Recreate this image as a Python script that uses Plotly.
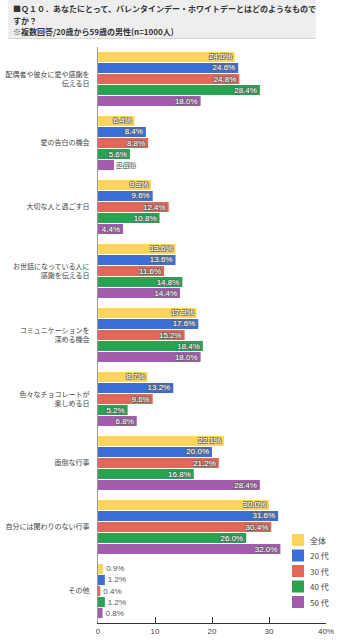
import plotly.graph_objects as go

categories = [
    "配偶者や彼女に愛や感謝を<br>伝える日",
    "愛の告白の機会",
    "大切な人と過ごす日",
    "お世話になっている人に<br>感謝を伝える日",
    "コミュニケーションを<br>深める機会",
    "色々なチョコレートが<br>楽しめる日",
    "面倒な行事",
    "自分には関わりのない行事",
    "その他",
]
series_names = ["全体", "20 代", "30 代", "40 代", "50 代"]
v_all = [24.0, 6.4, 9.3, 13.6, 17.3, 8.7, 22.1, 30.0, 0.9]
v_20 = [24.6, 8.4, 9.6, 13.6, 17.6, 13.2, 20.0, 31.6, 1.2]
v_30 = [24.8, 8.8, 12.4, 11.6, 15.2, 9.6, 21.2, 30.4, 0.4]
v_40 = [28.4, 5.6, 10.8, 14.8, 18.4, 5.2, 16.8, 26.0, 1.2]
v_50 = [18.0, 2.8, 4.4, 14.4, 18.0, 6.8, 28.4, 32.0, 0.8]
series_values = [v_all, v_20, v_30, v_40, v_50]
colors = ["#FDD55B", "#3B6FD6", "#E2665A", "#2AA250", "#A35CAD"]
tick_vals = [0, 10, 20, 30, 40]
tick_text = ["0", "10", "20", "30", "40%"]

W, H = 347, 640
ML, MR, MT, MB = 98, 21, 47, 17
PW = W - ML - MR
PH = H - MT - MB


def px_x(px):
    return (px - ML) / PW


def px_y(py):
    return (H - MB - py) / PH


FONT = "Liberation Sans, Arial, Noto Sans CJK JP, sans-serif"
JFONT = "Noto Sans CJK JP, sans-serif"
outline = "1px 1px 0 #666, -1px -1px 0 #666, 1px -1px 0 #666, -1px 1px 0 #666"

fig = go.Figure()
for name, vals, col in zip(series_names, series_values, colors):
    pos = ["inside" if v >= 3 else "outside" for v in vals]
    out_col = ["white" if v >= 2 else "#555" for v in vals]
    out_sh = [outline if v >= 2 else "none" for v in vals]
    fig.add_trace(go.Bar(
        name=name,
        y=categories,
        x=vals,
        orientation="h",
        marker=dict(color=col, line=dict(width=0)),
        text=[f"{v:.1f}%" for v in vals],
        textposition=pos,
        insidetextanchor="end",
        constraintext="none",
        cliponaxis=False,
        insidetextfont=dict(family=FONT, size=8, color="white", shadow=outline),
        outsidetextfont=dict(family=FONT, size=8, color=out_col, shadow=out_sh),
        hoverinfo="skip",
        showlegend=False,
    ))

fig.update_layout(
    width=W, height=H,
    margin=dict(l=ML, r=MR, t=MT, b=MB, pad=0, autoexpand=False),
    paper_bgcolor="white",
    plot_bgcolor="white",
    barmode="group",
    bargap=0.14,
    bargroupgap=0.08,
    font=dict(family=JFONT, size=7, color="#444"),
    showlegend=False,
    xaxis=dict(
        range=[0, 40], tickvals=tick_vals, ticktext=tick_text,
        showgrid=False, zeroline=False, automargin=False,
        showline=True, linecolor="#333", linewidth=1,
        ticks="inside", ticklen=6, tickcolor="#333",
        tickfont=dict(family=FONT, size=8, color="#444"),
        fixedrange=True,
    ),
    yaxis=dict(
        autorange="reversed", automargin=False,
        showgrid=False, zeroline=False,
        showline=True, linecolor="#999", linewidth=1,
        ticks="", ticklabelstandoff=6,
        tickfont=dict(family=JFONT, size=7, color="#444"),
        fixedrange=True,
    ),
)

# custom legend (compact, like the reference)
for i, (name, col) in enumerate(zip(series_names, colors)):
    cy = 540 + 15.5 * i
    fig.add_shape(type="rect", xref="paper", yref="paper",
                  x0=px_x(292), x1=px_x(304), y0=px_y(cy + 6), y1=px_y(cy - 6),
                  fillcolor=col, line=dict(width=0))
    fig.add_annotation(xref="paper", yref="paper", x=px_x(308), y=px_y(cy),
                       xanchor="left", yanchor="middle", showarrow=False,
                       text=name, font=dict(family=JFONT, size=8, color="#444"))

# header box
fig.add_shape(type="rect", xref="paper", yref="paper",
              x0=px_x(8), x1=px_x(316), y0=px_y(38), y1=px_y(0),
              fillcolor="#EEEEEE", line=dict(width=0), layer="below")
fig.add_shape(type="line", xref="paper", yref="paper",
              x0=px_x(8), x1=px_x(316), y0=px_y(38.5), y1=px_y(38.5),
              line=dict(color="#D8D8D8", width=1))

header_lines = [
    "■Ｑ１０．あなたにとって、バレンタインデー・ホワイトデーとはどのようなもので",
    "すか？",
    "※複数回答/20歳から59歳の男性(n=1000人)",
]
for i, t in enumerate(header_lines):
    fig.add_annotation(
        xref="paper", yref="paper", x=px_x(11), y=px_y(8 + 12 * i),
        xanchor="left", yanchor="middle", showarrow=False,
        text=f"<b>{t}</b>",
        font=dict(family=JFONT, size=8, color="#333"),
    )

fig.write_html("out.html")
